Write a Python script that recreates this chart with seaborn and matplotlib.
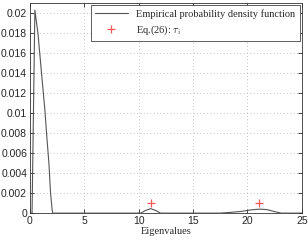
import numpy as np
import pandas as pd
import seaborn as sns
import matplotlib.pyplot as plt

# empirical density
eig = [0.0, 0.2, 0.46, 0.74, 1.07, 1.38, 1.53, 1.75, 1.9, 2.05, 2.1, 9.3,
       10.2, 10.6, 11.1, 11.6, 12.0, 17.5, 18.5, 19.5, 20.3, 21.1, 21.8,
       22.5, 23.1, 25.0]
dens = [0.0, 0.0, 0.0203, 0.018, 0.014, 0.0103, 0.008, 0.005, 0.002, 0.0003, 0.0,
        0.0, 0.0, 0.00025, 0.00045, 0.00025, 0.0, 0.0, 0.00008, 0.00018,
        0.00032, 0.0004, 0.00035, 0.00015, 0.0, 0.0]

# Eq.(26) points
tau_x = [11.15, 21.1]
tau_y = [0.001, 0.001]

df = pd.DataFrame({'eig': eig, 'dens': dens})

sns.set_style('ticks')
plt.rcParams['font.family'] = ['Liberation Sans', 'DejaVu Sans']
plt.rcParams['mathtext.fontset'] = 'cm'

fig, ax = plt.subplots(figsize=(3.08, 2.4), dpi=100)
fig.subplots_adjust(left=0.097, right=0.98, top=0.987, bottom=0.112)

sns.lineplot(data=df, x='eig', y='dens', color='#555555', linewidth=0.8,
             ax=ax, label='Empirical probability density function')
ax.plot(tau_x, tau_y, linestyle='none', marker='+', color='#ff2020',
        markeredgecolor='#ff2020', markersize=5.5, markeredgewidth=0.9,
        alpha=0.75, label=r'Eq.(26): $\tau_i$')

ax.set_xlim(0, 25)
ax.set_ylim(0, 0.021)
ax.set_xticks([0, 5, 10, 15, 20, 25])
ax.set_yticks(np.arange(0, 0.0201, 0.002))
ax.set_yticklabels(['0', '0.002', '0.004', '0.006', '0.008', '0.01',
                    '0.012', '0.014', '0.016', '0.018', '0.02'])
ax.tick_params(direction='in', labelsize=7.5, length=3, width=0.6,
               top=True, right=True, pad=2)
ax.grid(True, linestyle=(0, (1, 3)), color='#b0b0b0', linewidth=0.6)
for s in ax.spines.values():
    s.set_linewidth(0.6)
    s.set_color('#333333')

ax.set_xlabel('Eigenvalues', family='Liberation Serif', fontsize=7.5, labelpad=1)
ax.set_ylabel('')

leg = ax.legend(loc='upper right', prop={'family': 'Liberation Serif', 'size': 7.5},
                fancybox=False, edgecolor='#444444', framealpha=1,
                borderaxespad=0.2, handlelength=3.2, labelspacing=0.4)
leg.get_frame().set_linewidth(0.6)

plt.savefig('out.png', dpi=100)
